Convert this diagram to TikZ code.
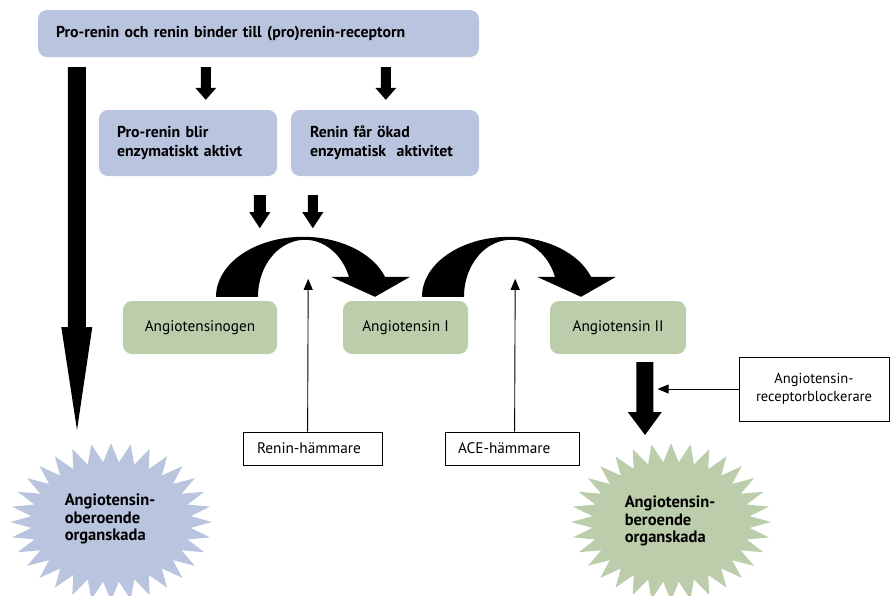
\documentclass[tikz,border=0pt]{standalone}
\usepackage{fontspec}
\setmainfont{PT Sans}
\usetikzlibrary{arrows.meta,calc}
\definecolor{bluefill}{RGB}{185,196,222}
\definecolor{greenfill}{RGB}{187,205,170}
\newcommand{\blkarrow}[5]{%
  \fill let \p1=#1, \p2=#2 in
    (\x1-#3/2,\y1) -- (\x1-#3/2,\y2+#5) -- (\x1-#4/2,\y2+#5) -- (\x2,\y2)
    -- (\x1+#4/2,\y2+#5) -- (\x1+#3/2,\y2+#5) -- (\x1+#3/2,\y1) -- cycle;}
\begin{document}
\begin{tikzpicture}[x=1pt,y=-1pt,
  txt/.style={font=\fontsize{15.3}{18}\selectfont},
  btxt/.style={font=\bfseries\fontsize{15.8}{19}\selectfont},
  bluebox/.style={btxt, fill=bluefill, rounded corners=9pt, align=left, inner ysep=0pt},
  greenbox/.style={txt, fill=greenfill, rounded corners=9pt, minimum height=53pt, align=center},
  whitebox/.style={txt, draw=black, line width=0.8pt, minimum height=33pt, align=left, inner ysep=0pt},
  startext/.style={font=\bfseries\fontsize{16.5}{17.5}\selectfont, align=left},
  thinarrow/.style={draw=black, line width=0.9pt, -{Triangle[length=11pt,width=9pt]}},
  bend/.pic={\fill[black] (0,0) arc[start angle=180,end angle=340.5,x radius=87,y radius=60]
      -- (194,-20) -- (159,0) -- (115,-20) -- (133,-20)
      arc[start angle=339.5,end angle=180,x radius=47,y radius=57] -- cycle;}
]
\useasboundingbox (0,0) rectangle (890,595);

% boxes
\node[bluebox, minimum width=441pt, minimum height=47pt, text width=405pt, inner xsep=18pt] (top) at (258.5,33.5)
  {Pro-renin och renin binder till (pro)renin-receptorn};
\node[bluebox, minimum width=178pt, minimum height=66pt, text width=142pt, inner xsep=18pt] (box2) at (188,143)
  {Pro-renin blir\\enzymatiskt aktivt};
\node[bluebox, minimum width=188pt, minimum height=66pt, text width=150pt, inner xsep=19pt] (box3) at (385,143)
  {Renin får ökad\\enzymatisk\ \ aktivitet};

\node[greenbox, minimum width=154pt] (ag) at (200,327.5) {Angiotensinogen};
\node[greenbox, minimum width=125pt] (ang1) at (405.5,327.5) {Angiotensin I};
\node[greenbox, minimum width=136pt] (ang2) at (618,327.5) {Angiotensin II};

\node[whitebox, minimum width=139pt, text width=111pt, inner xsep=14pt] (rh) at (312.5,448.5) {Renin-hämmare};
\node[whitebox, minimum width=134pt, text width=108pt, inner xsep=13pt] (ace) at (512,448.5) {ACE-hämmare};
\node[font=\fontsize{14.5}{18}\selectfont, draw=black, line width=0.8pt, minimum width=150pt, minimum height=64pt, align=center, inner sep=0pt] (arb) at (814,389)
  {Angiotensin-\\receptorblockerare};

% starbursts
\fill[bluefill, shift={(111,522)}] (0:101 and 79)
  \foreach \i in {0,...,31} { -- ({\i*11.25+5.625}:80 and 60) -- ({\i*11.25+11.25}:101 and 79) } -- cycle;
\fill[greenfill, shift={(671,522)}] (0:100 and 79)
  \foreach \i in {0,...,31} { -- ({\i*11.25+5.625}:79 and 60) -- ({\i*11.25+11.25}:100 and 79) } -- cycle;
\node[startext] (st1) at (110,519) {Angiotensin-\\oberoende\\organskada};
\node[startext] (st2) at (670,521) {Angiotensin-\\beroende\\organskada};

% block arrows
\blkarrow{($(top.south west)+(39,10)$)}{($(st1)+(-33,-89)$)}{18pt}{31pt}{103pt}
\blkarrow{($(top.south west)+(168,10)$)}{($(box2.north west)+(107,-10)$)}{10pt}{21pt}{12pt}
\blkarrow{($(top.south west)+(348,10)$)}{($(box3.north west)+(95,-10)$)}{10pt}{21pt}{12pt}
\blkarrow{($(box2.south west)+(161,19)$)}{($(box2.south west)+(161,52)$)}{12pt}{21pt}{16pt}
\blkarrow{($(box3.south west)+(22,19)$)}{($(box3.south west)+(22,52)$)}{10pt}{21pt}{16pt}
\blkarrow{($(ang2.south west)+(95,8)$)}{($(st2)+(-25,-86)$)}{17pt}{34pt}{23pt}

% curved conversion arrows
\pic at ($(ag.north)+(16,-4)$) {bend};
\pic at ($(ang1.north)+(16.5,-4)$) {bend};

% inhibitor arrows
\draw[thinarrow] ($(rh.north west)+(65,0)$) -- ($(ag.north east)+(31,-22)$);
\draw[thinarrow] ($(ace.north west)+(70,0)$) -- ($(ang1.north east)+(47,-22)$);
\draw[thinarrow] (arb.west) -- ($(arb.west)+(-81,0)$);
\end{tikzpicture}
\end{document}
